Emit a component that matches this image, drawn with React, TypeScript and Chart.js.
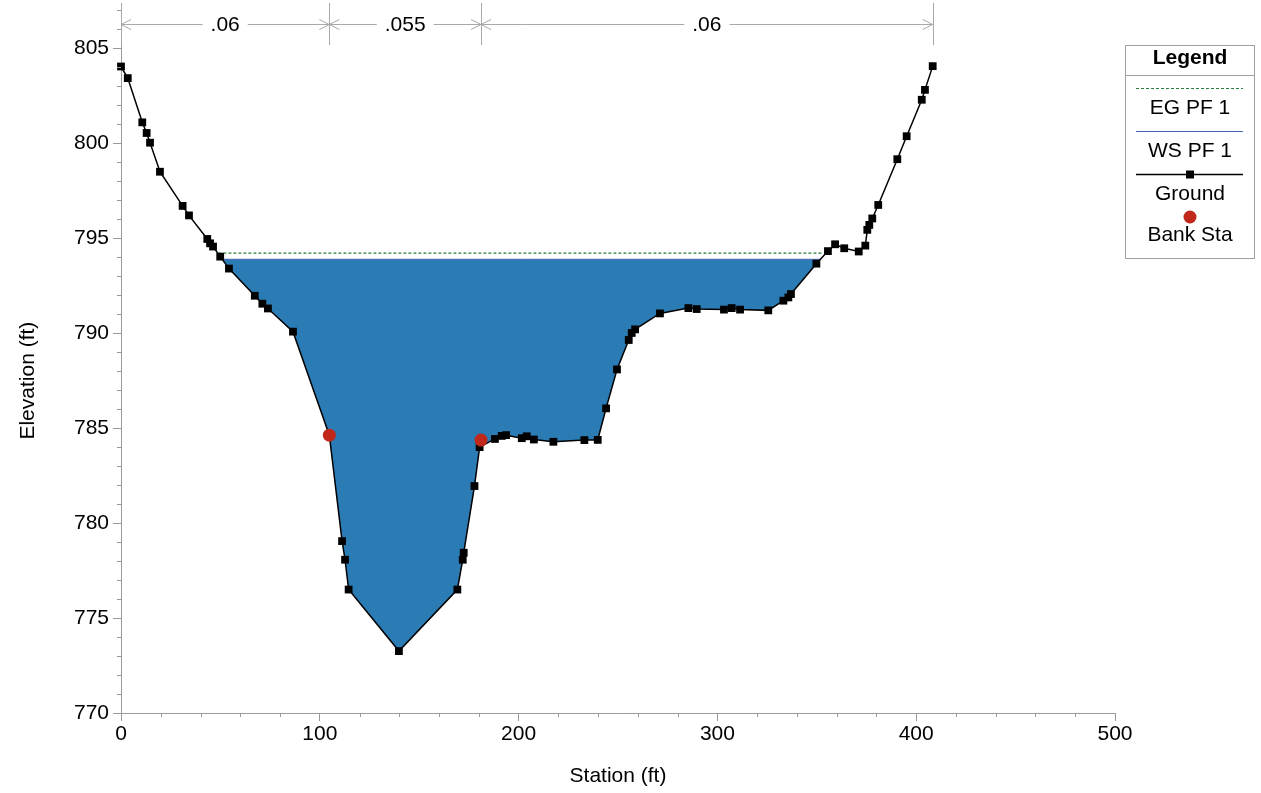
import React, { useEffect, useRef } from 'react';
import { Chart, registerables } from 'chart.js';

Chart.register(...registerables);

// ---------------- data ----------------
const groundStations = [
  0, 3.4, 10.7, 12.9, 14.6, 19.6, 31.0, 34.2, 43.4, 44.8, 46.3, 49.9, 54.3, 67.3, 71.1, 73.9,
  86.5, 104.8, 111.2, 112.7, 114.5, 139.8, 169.2, 171.9, 172.4, 177.8, 180.4, 188.1, 191.5,
  193.7, 201.6, 204.1, 207.7, 217.5, 233.1, 239.8, 244.0, 249.5, 255.4, 256.9, 258.6, 271.1,
  285.4, 289.6, 303.3, 307.2, 311.4, 325.6, 333.2, 335.7, 337.0, 349.8, 355.6, 359.2, 363.8,
  371.1, 374.4, 375.4, 376.4, 377.9, 380.9, 390.5, 395.2, 402.8, 404.4, 408.3,
];
const groundElevations = [
  804.04, 803.43, 801.1, 800.54, 800.03, 798.5, 796.7, 796.2, 794.96, 794.73, 794.56, 794.03,
  793.4, 791.97, 791.55, 791.3, 790.08, 784.63, 779.05, 778.07, 776.5, 773.26, 776.5, 778.07,
  778.44, 781.95, 784.0, 784.43, 784.59, 784.63, 784.47, 784.57, 784.4, 784.28, 784.37, 784.38,
  786.04, 788.09, 789.64, 790.01, 790.2, 791.04, 791.32, 791.27, 791.24, 791.32, 791.24, 791.2,
  791.71, 791.88, 792.06, 793.66, 794.32, 794.68, 794.47, 794.3, 794.61, 795.44, 795.7, 796.04,
  796.75, 799.16, 800.37, 802.29, 802.81, 804.06,
];
const bankStations = [104.8, 181.1];
const bankElevations = [784.63, 784.37];
const wsStations = [50.9, 351.9];
const wsElevation = 793.89;
const egStations = [49.0, 353.0];
const egElevation = 794.21;
const nBreakStations = [0, 104.8, 181.1, 408.3];
const nValues = ['.06', '.055', '.06'];
const legendLabels = ['EG PF 1', 'WS PF 1', 'Ground', 'Bank Sta'];

// ---------------- styles ----------------
const FONT = "'Liberation Sans', Arial, sans-serif";
const WATER = '#2B7BB4';
const WS_LINE = '#4A64B8';
const EG_COLOR = '#2A7D3C';
const BANK_COLOR = '#C0281C';
const AXIS_GREY = '#9A9A9A';

const toPoints = (xs: number[], ys: number[]) => xs.map((x, i) => ({ x, y: ys[i] }));

const decorPlugin = {
  id: 'decor',
  afterDraw(chart: any) {
    const ctx = chart.ctx as CanvasRenderingContext2D;
    const xs = chart.scales.x;
    const ys = chart.scales.y;
    const area = chart.chartArea;
    ctx.save();

    // minor ticks
    ctx.strokeStyle = AXIS_GREY;
    ctx.lineWidth = 1;
    ctx.beginPath();
    for (let v = xs.min; v <= xs.max; v += 20) {
      if (Math.round(v) % 100 === 0) continue;
      const px = Math.round(xs.getPixelForValue(v)) + 0.5;
      ctx.moveTo(px, area.bottom);
      ctx.lineTo(px, area.bottom + 4);
    }
    for (let v = 770; v <= ys.max; v += 1) {
      if (v % 5 === 0) continue;
      const py = Math.round(ys.getPixelForValue(v)) + 0.5;
      ctx.moveTo(area.left - 4, py);
      ctx.lineTo(area.left, py);
    }
    ctx.stroke();

    // y-axis title
    const yMid = (ys.getPixelForValue(770) + ys.getPixelForValue(805)) / 2;
    ctx.save();
    ctx.translate(28, yMid);
    ctx.rotate(-Math.PI / 2);
    ctx.fillStyle = '#000';
    ctx.font = `21px ${FONT}`;
    ctx.textAlign = 'center';
    ctx.textBaseline = 'middle';
    ctx.fillText('Elevation (ft)', 0, 0);
    ctx.restore();

    // Manning's n annotation
    const ay = 24.5;
    ctx.strokeStyle = '#A8A8A8';
    ctx.lineWidth = 1;
    ctx.beginPath();
    nBreakStations.forEach((s) => {
      const px = Math.round(xs.getPixelForValue(s)) + 0.5;
      ctx.moveTo(px, 3);
      ctx.lineTo(px, 45);
    });
    const x0 = xs.getPixelForValue(nBreakStations[0]);
    const x1 = xs.getPixelForValue(nBreakStations[nBreakStations.length - 1]);
    ctx.moveTo(x0, ay);
    ctx.lineTo(x1, ay);
    for (let i = 0; i < nValues.length; i++) {
      const a = xs.getPixelForValue(nBreakStations[i]);
      const b = xs.getPixelForValue(nBreakStations[i + 1]);
      ctx.moveTo(a + 10, ay - 5);
      ctx.lineTo(a, ay);
      ctx.lineTo(a + 10, ay + 5);
      ctx.moveTo(b - 10, ay - 5);
      ctx.lineTo(b, ay);
      ctx.lineTo(b - 10, ay + 5);
    }
    ctx.stroke();
    ctx.font = `21px ${FONT}`;
    ctx.textAlign = 'center';
    ctx.textBaseline = 'middle';
    for (let i = 0; i < nValues.length; i++) {
      const a = xs.getPixelForValue(nBreakStations[i]);
      const b = xs.getPixelForValue(nBreakStations[i + 1]);
      const mid = (a + b) / 2;
      const w = ctx.measureText(nValues[i]).width;
      ctx.fillStyle = '#fff';
      ctx.fillRect(mid - w / 2 - 8, ay - 12, w + 16, 24);
      ctx.fillStyle = '#000';
      ctx.fillText(nValues[i], mid, ay + 1);
    }

    // Legend box
    const L = 1125.5, T = 45.5, W = 129, H = 213;
    const cx = L + W / 2;
    ctx.strokeStyle = '#A0A0A0';
    ctx.lineWidth = 1;
    ctx.strokeRect(L, T, W, H);
    ctx.beginPath();
    ctx.moveTo(L, 75.5);
    ctx.lineTo(L + W, 75.5);
    ctx.stroke();
    ctx.fillStyle = '#000';
    ctx.font = `bold 21px ${FONT}`;
    ctx.fillText('Legend', cx, 58);
    ctx.font = `21px ${FONT}`;
    const lx0 = 1136, lx1 = 1243;
    // EG
    ctx.strokeStyle = EG_COLOR;
    ctx.lineWidth = 1.2;
    ctx.setLineDash([3, 2]);
    ctx.beginPath();
    ctx.moveTo(lx0, 88.5);
    ctx.lineTo(lx1, 88.5);
    ctx.stroke();
    ctx.setLineDash([]);
    ctx.fillText(legendLabels[0], cx, 108);
    // WS
    ctx.strokeStyle = WS_LINE;
    ctx.lineWidth = 1.2;
    ctx.beginPath();
    ctx.moveTo(lx0, 131.5);
    ctx.lineTo(lx1, 131.5);
    ctx.stroke();
    ctx.fillText(legendLabels[1], cx, 151);
    // Ground
    ctx.strokeStyle = '#000';
    ctx.lineWidth = 1.5;
    ctx.beginPath();
    ctx.moveTo(lx0, 174.5);
    ctx.lineTo(lx1, 174.5);
    ctx.stroke();
    ctx.fillRect(cx - 4, 170.5, 8, 8);
    ctx.fillText(legendLabels[2], cx, 194);
    // Bank
    ctx.fillStyle = BANK_COLOR;
    ctx.beginPath();
    ctx.arc(cx, 217, 6.5, 0, Math.PI * 2);
    ctx.fill();
    ctx.fillStyle = '#000';
    ctx.fillText(legendLabels[3], cx, 235);

    ctx.restore();
  },
};

export default function App() {
  const canvasRef = useRef<HTMLCanvasElement | null>(null);

  useEffect(() => {
    const canvas = canvasRef.current;
    if (!canvas) return;
    const chart = new Chart(canvas, {
      type: 'line',
      data: {
        datasets: [
          {
            label: 'Bank Sta',
            data: toPoints(bankStations, bankElevations),
            showLine: false,
            pointStyle: 'circle',
            pointRadius: 6.5,
            pointBackgroundColor: BANK_COLOR,
            pointBorderColor: BANK_COLOR,
            pointBorderWidth: 0,
            fill: false,
            clip: false,
          },
          {
            label: 'Ground',
            data: toPoints(groundStations, groundElevations),
            borderColor: '#000',
            borderWidth: 1.5,
            pointStyle: 'rect',
            pointRadius: 5.5,
            pointBackgroundColor: '#000',
            pointBorderColor: '#000',
            pointBorderWidth: 0,
            fill: false,
            tension: 0,
            clip: false,
          },
          {
            label: 'WS PF 1',
            data: toPoints(wsStations, wsStations.map(() => wsElevation)),
            borderColor: WS_LINE,
            borderWidth: 1,
            pointRadius: 0,
            fill: { target: 1, above: WATER, below: WATER },
            backgroundColor: WATER,
          },
          {
            label: 'EG PF 1',
            data: toPoints(egStations, egStations.map(() => egElevation)),
            borderColor: EG_COLOR,
            borderWidth: 1.2,
            borderDash: [3, 2],
            pointRadius: 0,
            fill: false,
          },
        ],
      },
      options: {
        animation: false,
        responsive: false,
        devicePixelRatio: 1,
        layout: { padding: { left: 0, top: 3, right: 146, bottom: 0 } },
        plugins: {
          legend: { display: false },
          tooltip: { enabled: false },
          title: { display: false },
        },
        scales: {
          x: {
            type: 'linear',
            min: 0,
            max: 500,
            ticks: {
              stepSize: 100,
              padding: 1,
              color: '#000',
              font: { family: FONT, size: 21 },
              maxRotation: 0,
            },
            grid: {
              display: true,
              drawOnChartArea: false,
              drawTicks: true,
              tickLength: 8,
              tickColor: AXIS_GREY,
            },
            border: { display: true, color: AXIS_GREY, width: 1 },
            title: {
              display: true,
              text: 'Station (ft)',
              color: '#000',
              font: { family: FONT, size: 21 },
              padding: { top: 0, bottom: 4 },
            },
            afterFit: (scale: any) => {
              scale.height = 80;
              scale.paddingLeft = 0;
              scale.paddingRight = 0;
            },
          },
          y: {
            type: 'linear',
            min: 770,
            max: 807.2,
            ticks: {
              stepSize: 5,
              padding: 4,
              color: '#000',
              font: { family: FONT, size: 21 },
            },
            afterBuildTicks: (scale: any) => {
              scale.ticks = scale.ticks.filter((t: any) => Math.abs(t.value % 5) < 1e-6);
            },
            grid: {
              display: true,
              drawOnChartArea: false,
              drawTicks: true,
              tickLength: 8,
              tickColor: AXIS_GREY,
            },
            border: { display: true, color: AXIS_GREY, width: 1 },
            title: { display: false },
            afterFit: (scale: any) => {
              scale.width = 121;
              scale.paddingTop = 0;
              scale.paddingBottom = 0;
            },
          },
        },
      },
      plugins: [decorPlugin],
    });
    return () => chart.destroy();
  }, []);

  return (
    <div style={{ position: 'absolute', left: 0, top: 0, width: 1261, height: 793, background: '#fff' }}>
      <canvas ref={canvasRef} width={1261} height={793} style={{ width: 1261, height: 793, display: 'block' }} />
    </div>
  );
}
